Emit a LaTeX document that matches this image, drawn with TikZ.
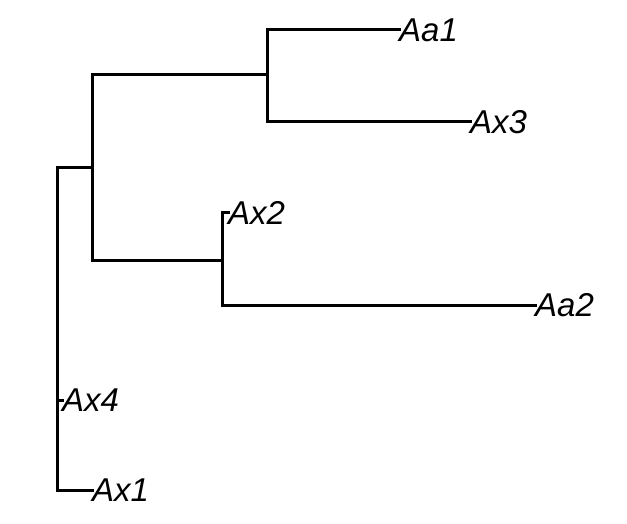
\documentclass[tikz,border=0pt]{standalone}
\usepackage{fontspec}
\setmainfont{Liberation Sans}
\usepackage{xcolor}
\definecolor{branchblack}{RGB}{0,0,0}

\begin{document}
\begin{tikzpicture}[x=1pt,y=-1pt,
    branch/.style={draw=branchblack, line width=3pt, line cap=rect},
    leaf/.style={anchor=west, inner sep=0pt, text=branchblack,
                 font=\fontsize{33}{36}\selectfont\itshape}]
      \useasboundingbox (0,0) rectangle (627,524);
      % inner nodes
      \coordinate (root) at (57,329);
      \coordinate (n1) at (92,168);
      \coordinate (n2) at (267,75);
      \coordinate (n3) at (222,260);
      % leaves
      \node[leaf] (aa1) at (399,30) {Aa1};
      \node[leaf] (ax3) at (470,122) {Ax3};
      \node[leaf] (ax2) at (228,213) {Ax2};
      \node[leaf] (aa2) at (535,305) {Aa2};
      \node[leaf] (ax4) at (62,400) {Ax4};
      \node[leaf] (ax1) at (92,490) {Ax1};
      % branches
      \draw[branch] (root) |- (n1);
      \draw[branch] (root) |- (ax4.west);
      \draw[branch] (root) |- (ax1.west);
      \draw[branch] (n1) |- (n2);
      \draw[branch] (n1) |- (n3);
      \draw[branch] (n2) |- (aa1.west);
      \draw[branch] (n2) |- (ax3.west);
      \draw[branch] (n3) |- (ax2.west);
      \draw[branch] (n3) |- (aa2.west);
    \end{tikzpicture}
\end{document}
